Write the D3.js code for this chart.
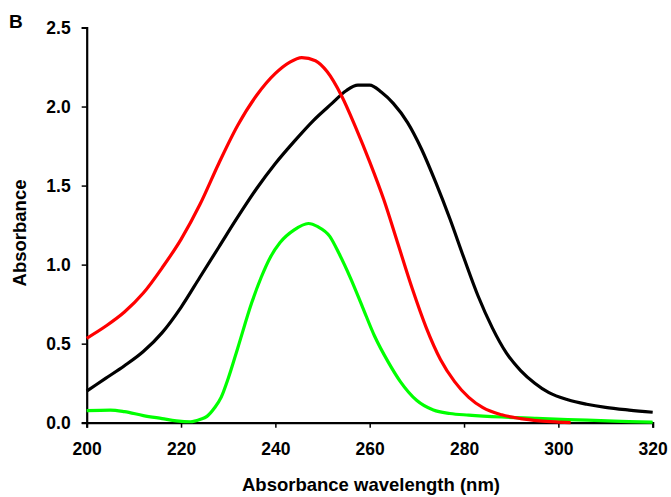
<!DOCTYPE html>
<html><head><meta charset="utf-8">
<script src="https://cdn.jsdelivr.net/npm/d3@7"></script>
<style>body{margin:0;background:#fff}svg{display:block}text{font-family:"Liberation Sans",Arial,sans-serif;font-weight:bold}</style>
</head><body>
<svg id="c" width="671" height="497"></svg>
<script>
const xTicks = [200, 220, 240, 260, 280, 300, 320];
const yTicks = [0, 0.5, 1.0, 1.5, 2.0, 2.5];

const blackX = [200,204,208,212,216,220,224,228,232,236,240,244,248,252,255,257.5,260,262.5,265,268,271,274,277,280,283,286,289,292,295,298,302,306,310,315,320];
const blackY = [0.20,0.28,0.36,0.45,0.57,0.73,0.92,1.11,1.30,1.48,1.64,1.78,1.91,2.02,2.10,2.135,2.135,2.09,2.02,1.90,1.73,1.52,1.29,1.04,0.80,0.60,0.44,0.33,0.25,0.19,0.145,0.117,0.097,0.08,0.066];

const redX = [200,204,208,212,216,220,224,228,232,236,240,243,245.6,248.5,251,254,257,260,263,266,269,272,275,278,281,284,288,292,296,300,302.6];
const redY = [0.534,0.61,0.70,0.82,0.98,1.16,1.38,1.64,1.88,2.07,2.21,2.28,2.31,2.29,2.22,2.07,1.87,1.65,1.41,1.13,0.85,0.60,0.40,0.26,0.16,0.095,0.05,0.026,0.012,0.004,0];

const greenX = [200,205,208,212,216,219,222,224,225.5,227,228.5,230,232,235,237,239,241,244,247,249,251.5,253.5,256,258.5,261,264,266.5,270,273.5,277,281,288,295,302,309,315,320];
const greenY = [0.076,0.08,0.07,0.045,0.026,0.012,0.006,0.02,0.04,0.09,0.16,0.28,0.47,0.76,0.92,1.05,1.14,1.22,1.26,1.24,1.18,1.07,0.91,0.73,0.55,0.38,0.26,0.14,0.08,0.058,0.048,0.036,0.028,0.02,0.013,0.007,0.003];

const svg = d3.select("#c");
const x = d3.scaleLinear().domain([200, 320]).range([86.7, 652.7]);
const y = d3.scaleLinear().domain([0, 2.5]).range([422.7, 27.5]);

const line = d3.line().x(d => x(d[0])).y(d => y(d[1])).curve(d3.curveMonotoneX);
const series = [
  {xs: blackX, ys: blackY, color: "#000000"},
  {xs: greenX, ys: greenY, color: "#00ff00"},
  {xs: redX, ys: redY, color: "#ff0000"}
];

const xa = svg.append("g").attr("transform", "translate(0,422.7)")
  .call(d3.axisBottom(x).tickValues(xTicks).tickSize(5).tickPadding(15).tickFormat(d3.format("d")));
const ya = svg.append("g").attr("transform", "translate(86.7,0)")
  .call(d3.axisLeft(y).tickValues(yTicks).tickSize(5).tickPadding(11).tickFormat(d3.format(".1f")));
[xa, ya].forEach(a => {
  a.select(".domain").attr("stroke", "#000").attr("stroke-width", 2.2);
  a.selectAll(".tick line").attr("stroke", "#000").attr("stroke-width", 1.5);
  a.selectAll(".tick text").attr("fill", "#000").style("font-size", "17.5px").style("font-family", "Liberation Sans, Arial, sans-serif").style("font-weight", "bold");
});

series.forEach(s => {
  svg.append("path")
    .datum(s.xs.map((v, i) => [v, s.ys[i]]))
    .attr("fill", "none").attr("stroke", s.color).attr("stroke-width", 3.2)
    .attr("stroke-linejoin", "round").attr("d", line);
});

svg.append("text").attr("x", 371).attr("y", 491).attr("text-anchor", "middle")
  .style("font-size", "18.5px").text("Absorbance wavelength (nm)");
svg.append("text").attr("transform", "translate(26,233) rotate(-90)").attr("text-anchor", "middle")
  .style("font-size", "18.5px").text("Absorbance");
svg.append("text").attr("x", 9).attr("y", 28).style("font-size", "19px").text("B");
</script>
</body></html>
